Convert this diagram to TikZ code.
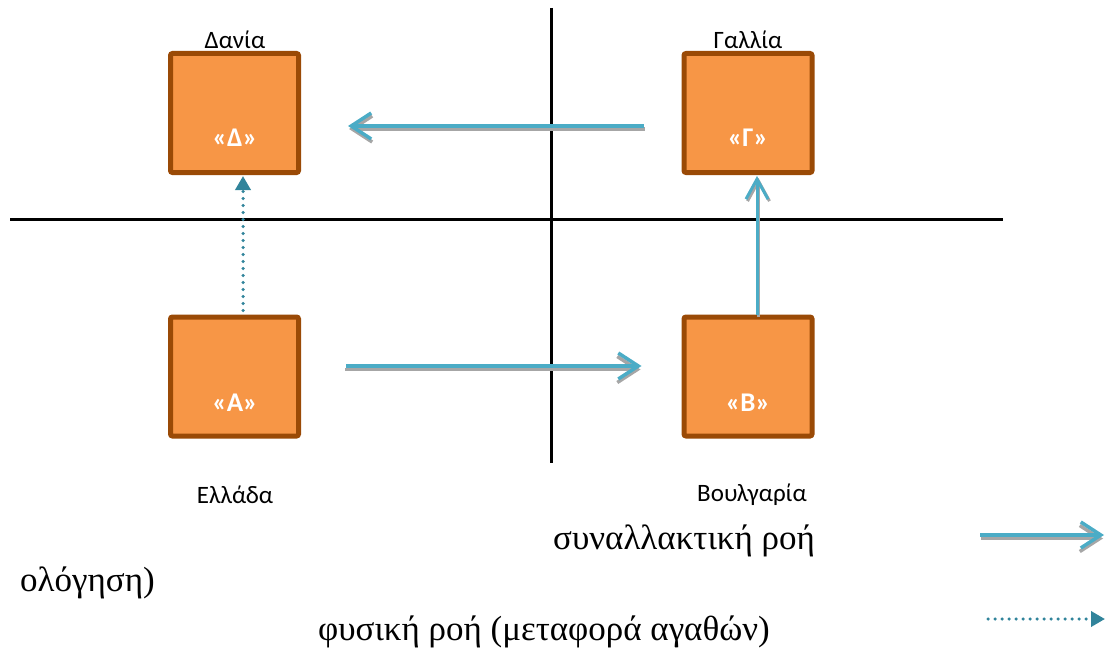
\documentclass[tikz,border=0pt]{standalone}
\usepackage{fontspec}
\setmainfont{Liberation Serif}
\newfontfamily\lblfont{Carlito}
\usetikzlibrary{arrows.meta}
\definecolor{boxfill}{HTML}{F79646}
\definecolor{boxline}{HTML}{9A4A06}
\definecolor{flowblue}{HTML}{4BACC6}
\definecolor{flowteal}{HTML}{31849B}
\definecolor{shadowgrey}{HTML}{A6A6A6}
\tikzset{
  country/.style={draw=boxline, fill=boxfill, line width=5pt, rounded corners=2pt,
    minimum width=128pt, minimum height=119pt, inner sep=0pt},
  code/.style={text=white, font=\lblfont\bfseries\fontsize{27}{32}\selectfont, inner sep=0pt},
  cname/.style={font=\lblfont\fontsize{25}{30}\selectfont, inner sep=0pt},
  legtext/.style={font=\fontsize{35}{40}\selectfont, inner sep=0pt},
  axis/.style={line width=3pt, black},
  flowshadow/.style={shadowgrey, line width=3.5pt, -{Straight Barb[length=20pt,width=26pt,line width=3.5pt]}},
  flowmain/.style={flowblue, line width=3.5pt, -{Straight Barb[length=20pt,width=26pt,line width=3.5pt]}},
  vshadow/.style={shadowgrey, line width=3pt, -{Straight Barb[length=20pt,width=22pt,line width=3pt]}},
  vmain/.style={flowblue, line width=3pt, -{Straight Barb[length=20pt,width=22pt,line width=3pt]}},
  physflow/.style={flowteal, line width=3.5pt, line cap=round, dash pattern=on 0pt off 7pt,
    -{Triangle[length=14pt,width=15pt,line cap=butt]}},
}
\begin{document}
\begin{tikzpicture}[x=1pt,y=-1pt]
\useasboundingbox (0,0) rectangle (1105,650);
% axes
\coordinate (vtop) at (551,8);
\coordinate (vbot) at (551,463);
\coordinate (hl) at (10,219);
\coordinate (hr) at (1003,219);
\draw[axis] (vtop) -- (vbot);
\draw[axis] (hl) -- (hr);
% boxes
\node[country] (D) at (234.5,113) {};
\node[country] (G) at (748,113) {};
\node[country] (A) at (234.5,376.5) {};
\node[country] (B) at (748,376.5) {};
\node[code] (Dc) at (235,138) {«Δ»};
\node[code] (Gc) at (748,138) {«Γ»};
\node[code] (Ac) at (235,403) {«Α»};
\node[code] (Bc) at (748,403) {«Β»};
\node[cname] (Dn) at (235,40) {Δανία};
\node[cname] (Gn) at (748,40) {Γαλλία};
\node[cname] (An) at (235,495) {Ελλάδα};
\node[cname] (Bn) at (752,495) {Βουλγαρία};
% flows
\draw[flowshadow, shorten <=38pt, shorten >=47pt] ([yshift=-16pt,xshift=1pt]G.west) -- ([yshift=-16pt,xshift=1pt]D.east);
\draw[flowmain, shorten <=38pt, shorten >=47pt] ([yshift=-13pt]G.west) -- ([yshift=-13pt]D.east);
\draw[flowshadow, shorten <=45pt, shorten >=40pt] ([yshift=7pt,xshift=-1pt]A.east) -- ([yshift=7pt,xshift=-1pt]B.west);
\draw[flowmain, shorten <=45pt, shorten >=40pt] ([yshift=10.5pt]A.east) -- ([yshift=10.5pt]B.west);
\draw[vshadow, shorten >=1pt] ([xshift=10.5pt,yshift=-2pt]B.north) -- ([xshift=10.5pt,yshift=-2pt]G.south);
\draw[vmain, shorten >=1pt] ([xshift=9pt]B.north) -- ([xshift=9pt]G.south);
\draw[physflow, shorten <=4pt, shorten >=1pt] ([xshift=8.5pt]A.north) -- ([xshift=8.5pt]D.south);
% legend
\node[legtext] (l1) at (684,541) {συναλλακτική ροή};
\node[legtext] (l2) at (544,632) {φυσική ροή (μεταφορά αγαθών)};
\node[legtext, anchor=east] (l3) at (155,583) {ολόγηση)};
\coordinate (la1) at (980,535);
\coordinate (lb1) at (1104,535);
\coordinate (la1s) at (981,538.5);
\coordinate (lb1s) at (1103,538.5);
\draw[flowshadow] (la1s) -- (lb1s);
\draw[flowmain] (la1) -- (lb1);
\coordinate (la2) at (988,619);
\coordinate (lb2) at (1105,619);
\draw[physflow] (la2) -- (lb2);
\end{tikzpicture}
\end{document}
